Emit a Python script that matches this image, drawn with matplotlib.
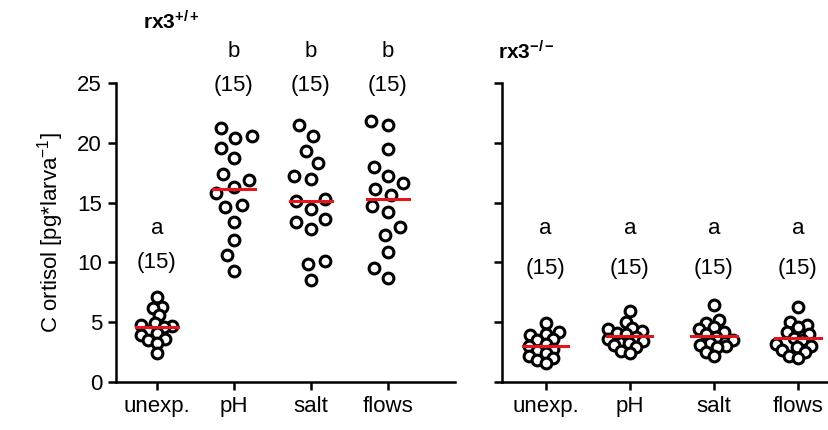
import numpy as np
import matplotlib.pyplot as plt

plt.rcParams['font.family'] = ['Liberation Sans', 'DejaVu Sans']
plt.rcParams['mathtext.fontset'] = 'custom'
plt.rcParams['mathtext.rm'] = 'Liberation Sans'
plt.rcParams['mathtext.bf'] = 'Liberation Sans:bold'

categories = ['unexp.', 'pH', 'salt', 'flows']

wt_values = [
    [7.1, 6.3, 6.2, 5.6, 4.9, 4.8, 4.7, 4.6, 4.3, 4.1, 3.9, 3.6, 3.5, 3.3, 2.4],
    [21.2, 20.4, 20.6, 19.6, 18.7, 17.4, 16.3, 16.9, 15.8, 14.8, 14.6, 13.4, 11.9, 10.6, 9.3],
    [21.5, 20.6, 19.3, 18.3, 17.2, 17.0, 15.3, 15.1, 14.5, 13.6, 13.4, 12.8, 10.1, 9.9, 8.5],
    [21.8, 21.5, 19.5, 18.0, 17.2, 16.6, 16.1, 15.6, 14.7, 14.2, 13.0, 12.3, 10.9, 9.5, 8.7],
]
ko_values = [
    [4.9, 4.2, 4.0, 3.9, 3.6, 3.5, 3.2, 3.0, 2.8, 2.6, 2.4, 2.2, 2.0, 1.8, 1.6],
    [5.9, 5.0, 4.5, 4.4, 4.3, 4.1, 4.0, 3.8, 3.6, 3.4, 3.3, 3.1, 2.9, 2.6, 2.4],
    [6.4, 5.2, 4.9, 4.6, 4.4, 4.2, 4.0, 3.8, 3.5, 3.3, 3.1, 3.0, 2.9, 2.5, 2.2],
    [6.3, 5.0, 4.8, 4.6, 4.2, 4.0, 3.7, 3.5, 3.2, 3.0, 2.9, 2.7, 2.5, 2.2, 2.0],
]
wt_letters = ['a', 'b', 'b', 'b']
ko_letters = ['a', 'a', 'a', 'a']
n_labels = ['(15)', '(15)', '(15)', '(15)']


def swarm_x(ax, xc, vals, d):
    # simple beeswarm in pixel space
    pts = ax.transData.transform([(xc, v) for v in vals])
    order = np.argsort(pts[:, 1])
    placed = []
    xs = np.zeros(len(vals))
    x0 = pts[0, 0]
    for i in order:
        y = pts[i, 1]
        cands = [x0]
        for px, py in placed:
            dy = abs(py - y)
            if dy < d:
                dx = np.sqrt(d * d - dy * dy)
                cands += [px - dx, px + dx]
        cands.sort(key=lambda c: abs(c - x0))
        for c in cands:
            ok = all((c - px) ** 2 + (y - py) ** 2 >= d * d - 1e-6 for px, py in placed)
            if ok:
                xs[i] = c
                placed.append((c, y))
                break
    back = ax.transData.inverted().transform(np.column_stack([xs, pts[:, 1]]))
    return back[:, 0]


fig = plt.figure(figsize=(8.29, 4.30), dpi=100)
ax1 = fig.add_axes([116 / 829, 1 - 382 / 430, 339 / 829, 299 / 430])
ax2 = fig.add_axes([502 / 829, 1 - 382 / 430, 327 / 829, 299 / 430])

setups = [
    (ax1, wt_values, wt_letters, (-0.53, 3.87), [27.6, 24.8], [12.8, 10.0], [9, 17, 17, 17]),
    (ax2, ko_values, ko_letters, (-0.52, 3.37), [12.8, 9.5], [12.8, 9.5], [9, 9, 9, 9]),
]

for ax, groups, letters, xlim, ypos_b, ypos_a, gaps in setups:
    ax.set_xlim(*xlim)
    ax.set_ylim(0, 25)
    for s in ['top', 'right']:
        ax.spines[s].set_visible(False)
    for s in ['left', 'bottom']:
        ax.spines[s].set_linewidth(1.8)
    ax.tick_params(width=1.8, length=6, labelsize=16, pad=4)
    ax.set_xticks(range(len(categories)))
    ax.set_xticklabels(categories)
    ax.set_yticks([0, 5, 10, 15, 20, 25])
    for i, vals in enumerate(groups):
        xs = swarm_x(ax, i, vals, gaps[i])
        ax.scatter(xs, vals, s=60, facecolors='white', edgecolors='black',
                   linewidths=2.2, zorder=3, clip_on=False)
        m = np.mean(vals)
        ax.plot([i - 0.27, i + 0.27], [m, m], color='#e8141c', lw=2.2, zorder=4)
        yl = ypos_b if letters[i] == 'b' else ypos_a
        ax.text(i, yl[0], letters[i], ha='center', va='center', fontsize=16, clip_on=False)
        ax.text(i, yl[1], n_labels[i], ha='center', va='center', fontsize=16, clip_on=False)

ax2.set_yticklabels([])
ax1.set_ylabel('C ortisol [pg*larva$^{-1}$]', fontsize=16, labelpad=8)

fig.text(143 / 829, 1 - 22 / 430, r'$\mathbf{rx3^{+/+}}$', fontsize=15, va='center')
fig.text(498 / 829, 1 - 52 / 430, r'$\mathbf{rx3^{-/-}}$', fontsize=15, va='center')

fig.savefig('out.png', dpi=100)
